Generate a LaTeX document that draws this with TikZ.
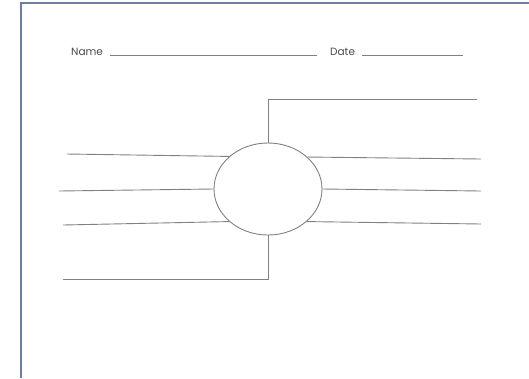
\documentclass[tikz,border=0pt]{standalone}
\usepackage{fontspec}
\setmainfont{Poppins}
\usetikzlibrary{shapes.geometric}
\definecolor{pageedge}{HTML}{6E7E9E}
\definecolor{ink}{HTML}{808080}
\definecolor{label}{HTML}{4A4A4A}
\tikzset{
  rule/.style={draw=ink, line width=0.9pt},
  field/.style={font=\fontsize{10.5}{12}\selectfont, text=label, inner sep=0pt, anchor=base west},
  hub/.style={ellipse, draw=ink, line width=0.9pt, minimum width=108pt, minimum height=92pt, inner sep=0pt}
}
\begin{document}
\begin{tikzpicture}[x=1pt,y=-1pt]
  \useasboundingbox (0,0) rectangle (529,378);
  % page edge (left and top)
  \draw[pageedge, line width=1.6pt] (21,378) -- (21,3) -- (529,3);

  % header fields
  \node[field] (name) at (71,55) {Name};
  \node[field] (date) at (330,55) {Date};
  \coordinate (nameA) at (110,55);
  \coordinate (nameB) at (317,55);
  \coordinate (dateA) at (362,55);
  \coordinate (dateB) at (463,55);
  \draw[rule, line width=0.8pt] (nameA) -- (nameB);
  \draw[rule, line width=0.8pt] (dateA) -- (dateB);

  % central oval
  \node[hub] (c) at (268,189) {};

  % top and bottom brackets
  \coordinate (topcorner) at (268,99);
  \coordinate (topend) at (477,99);
  \coordinate (botcorner) at (268,279);
  \coordinate (botend) at (63,279);
  \draw[rule] (c.north) -- (topcorner) -- (topend);
  \draw[rule] (c.south) -- (botcorner) -- (botend);

  % left spokes
  \coordinate (l1) at (67,154);
  \coordinate (l2) at (59,191);
  \coordinate (l3) at (63,225);
  \draw[rule] (l1) -- (c.140);
  \draw[rule] (l2) -- (c.west);
  \draw[rule] (l3) -- (c.220);

  % right spokes
  \coordinate (r1) at (481,159);
  \coordinate (r2) at (481,191);
  \coordinate (r3) at (481,224);
  \draw[rule] (c.39) -- (r1);
  \draw[rule] (c.east) -- (r2);
  \draw[rule] (c.320) -- (r3);
\end{tikzpicture}
\end{document}
